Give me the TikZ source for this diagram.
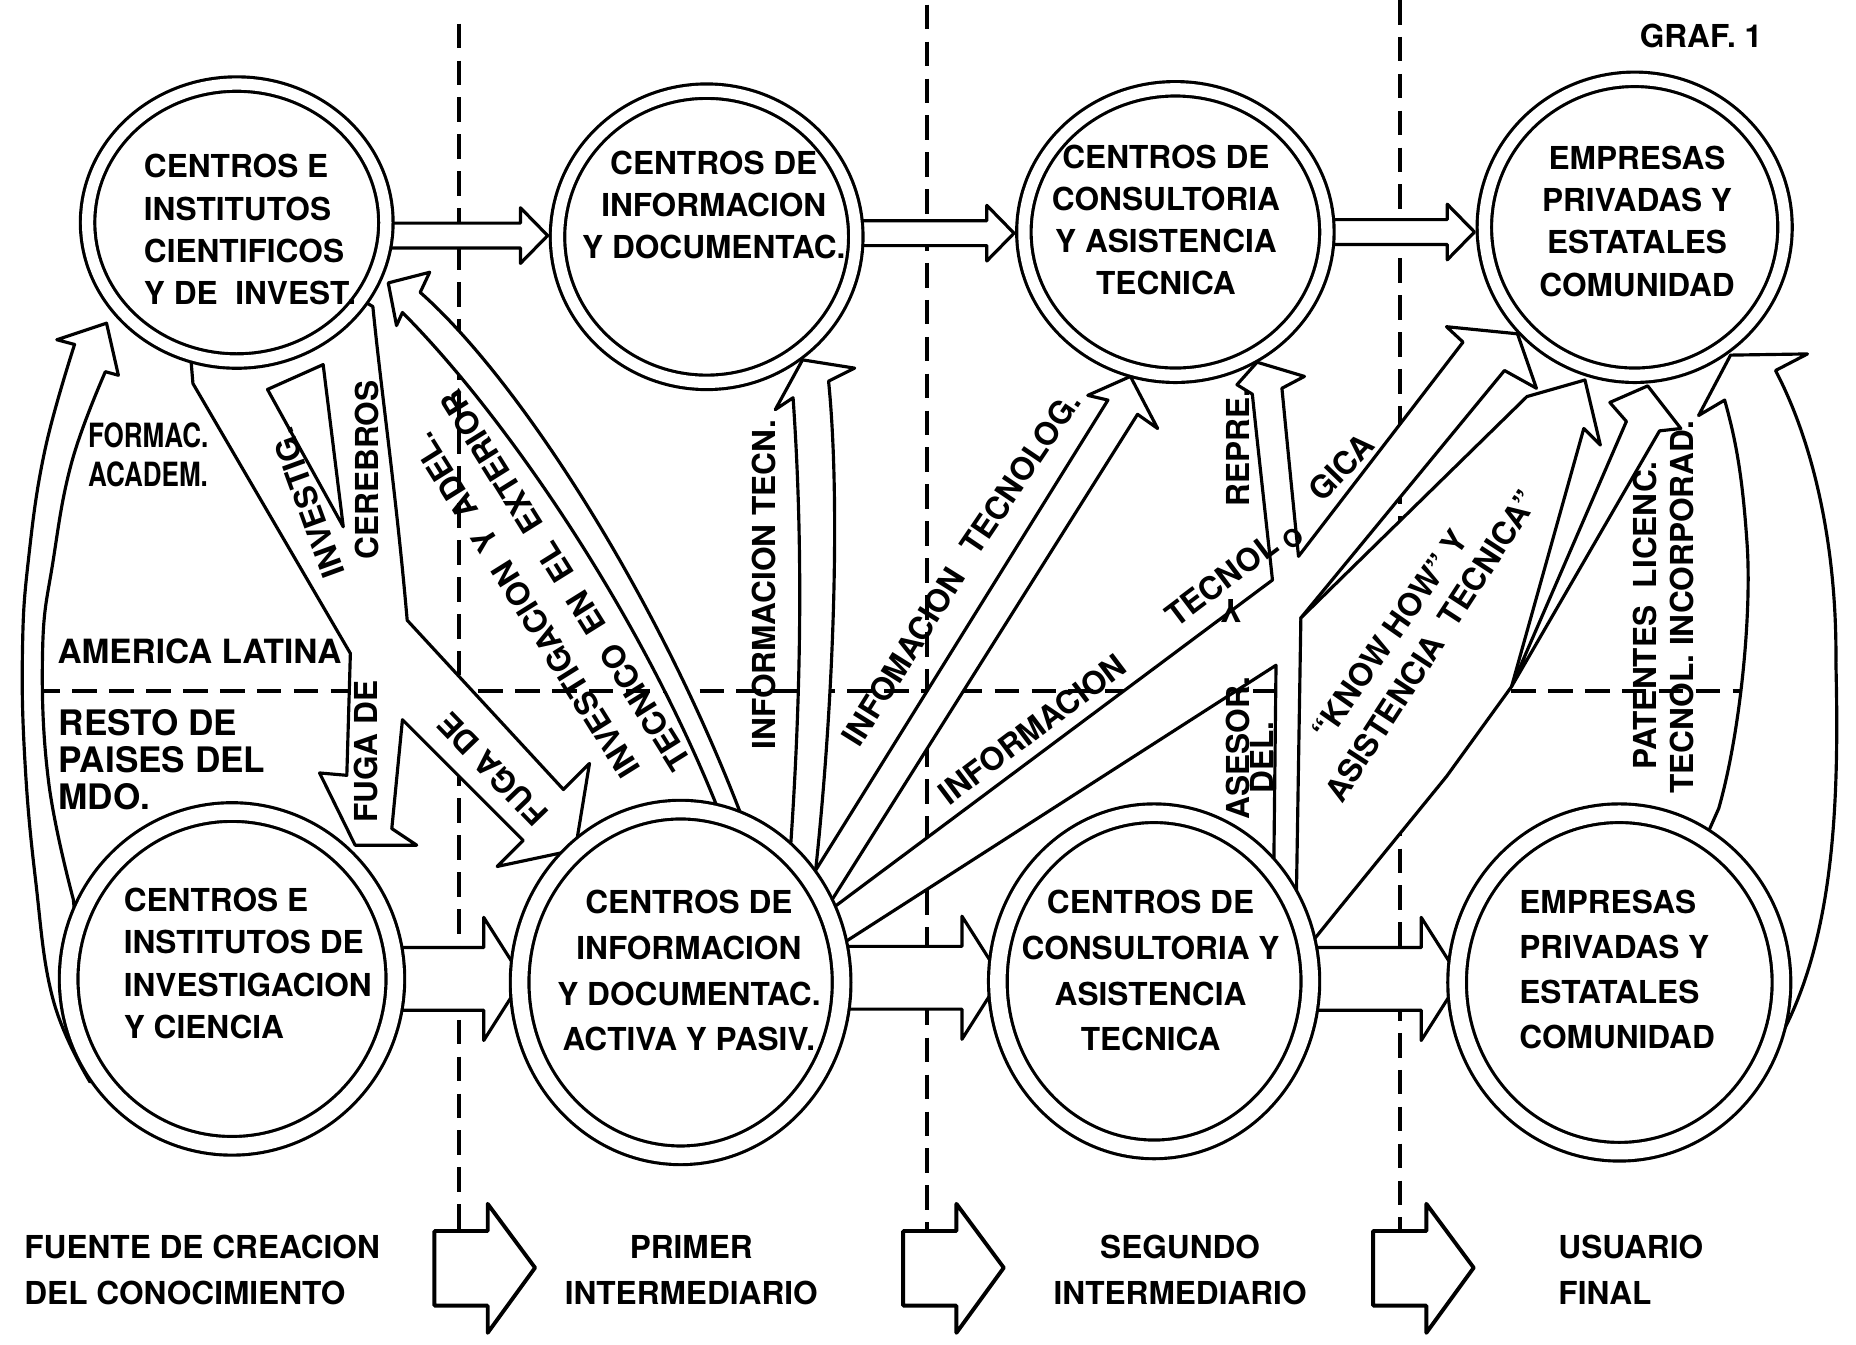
\documentclass[tikz,border=0pt]{standalone}
\usepackage{fontspec}
\setmainfont{TeX Gyre Heros}
\usetikzlibrary{calc,backgrounds,shapes.geometric}

\newcommand{\unid}{0.011837cm}

\tikzset{
  banda/.style={draw, fill=white, line width=0.9pt, line join=round},
  circulo/.style 2 args={ellipse, draw, double, double distance=4.4pt,
    line width=0.9pt, fill=white, inner sep=0pt,
    minimum width=#1*\unid, minimum height=#2*\unid},
  rotulo/.style={font=\fontsize{9}{12}\selectfont\bfseries, inner sep=0pt},
  raya/.style={line width=1.1pt, dash pattern=on 7pt off 3.5pt},
}

\begin{document}
\begin{tikzpicture}[x=\unid, y=-\unid]
\useasboundingbox (0,0) rectangle (1568,1136);

% circles
\node[circulo={252}{234}, double distance=3.2pt] (T1) at (200,188) {};
\node[circulo={252}{246}, double distance=3.2pt] (T2) at (597,200) {};
\node[circulo={256}{242}, double distance=3.2pt] (T3) at (993,196) {};
\node[circulo={254}{250}, double distance=3.2pt] (T4) at (1381,192) {};
\node[circulo={276}{282}] (B1) at (196,827) {};
\node[circulo={272}{292}] (B2) at (575,830) {};
\node[circulo={264}{284}] (B3) at (975,829) {};
\node[circulo={274}{286}] (B4) at (1368,830) {};

\begin{scope}[on background layer]
  \foreach \x/\y in {388/20, 783/4, 1183/0}
    \draw[raya] (\x,\y) -- (\x,1040);
  \draw[raya] (30,584) -- (1478,584);

  % formac. academ.
  \draw[banda] plot[smooth, tension=.7] coordinates {(62,760) (41,660) (36,549) (45,473) (61,389) (89,314)}
    -- (100,317) -- (90,273) -- (48,287) -- (63,291)
    -- plot[smooth, tension=.7] coordinates {(63,291) (38,380) (24,473) (19,549) (21,642) (30,743) (45,845) (76,914)}
    -- cycle;
  % fuga de cerebros / fuga de investig.
  \draw[banda] (161,300) -- (163,324) -- (296,552) -- (293,655) -- (270,653) -- (300,714)
    -- (352,714) -- (331,700) -- (340,608) -- (442,710) -- (420,732) -- (486,718)
    -- (498,645) -- (476,667) -- (344,524) .. controls (335,420) and (322,330) .. (315,259)
    -- (300,250) -- cycle;
  \draw[banda] (610,692) .. controls (541,515) and (422,346) .. (340,264) -- (335,275) -- (328,239)
    -- (363,230) -- (355,247) .. controls (439,321) and (558,507) .. (629,696) -- cycle;
  \draw[banda] (667,728) .. controls (680,549) and (676,422) .. (670,336) -- (655,346) -- (678,304)
    -- (722,311) -- (700,322) .. controls (710,422) and (705,591) .. (688,745) -- cycle;
  \draw[banda] (683,745) -- (936,338) -- (919,334) -- (955,318) -- (978,362) -- (961,350) -- (703,760) -- cycle;
  % informacion tecnologica + asesor. y repre.
  \draw[banda] (697,772) -- (1075,490) .. controls (1068,425) and (1062,372) .. (1058,333)
    -- (1045,325) -- (1062,306) -- (1102,318) -- (1083,328) .. controls (1088,380) and (1093,430) .. (1097,470)
    -- (1236,289) -- (1222,276) -- (1282,282) -- (1298,328) -- (1271,313) -- (1099,522)
    -- (1099,760) -- (1076,745) -- (1078,562) -- (712,797) -- cycle;
  % know how
  \draw[banda] (1095,770) -- (1099,522) -- (1290,335) -- (1339,321) -- (1352,376) -- (1338,362)
    -- (1277,580) -- (1222,656) -- (1130,769) -- (1105,800) -- cycle;
  \draw[banda] (1277,580) -- (1374,356) -- (1360,340) -- (1392,326) -- (1420,362) -- (1402,364) -- cycle;
  \draw[banda] (1440,710) -- (1452,683) .. controls (1470,620) and (1480,520) .. (1476,460)
    .. controls (1472,400) and (1466,370) .. (1457,338) -- (1435,351) -- (1462,300) -- (1527,299)
    -- (1500,313) .. controls (1535,380) and (1552,470) .. (1551,560)
    .. controls (1555,720) and (1545,860) .. (1450,945) -- cycle;

  % flows along each row
  \foreach \a/\b/\dy in {T1/T2/-1, T2/T3/1, T3/T4/4} {
    \coordinate (p) at ($(\b.west)+(-7,\dy)$);
    \path ($(p)+(-23,-10.5)$) coordinate (s1) ($(p)+(-23,10.5)$) coordinate (s2);
    \draw[banda] (\a.center |- s1) -- (s1) -- ($(p)+(-23,-23.5)$) -- (p)
      -- ($(p)+(-23,23.5)$) -- (s2) -- (\a.center |- s2);
  }
  \foreach \a/\b in {B1/B2, B2/B3, B3/B4} {
    \coordinate (p) at ($(\b.west)+(4,-3)$);
    \path ($(p)+(-33,-26.5)$) coordinate (s1) ($(p)+(-33,26.5)$) coordinate (s2);
    \draw[banda] (\a.center |- s1) -- (s1) -- ($(p)+(-33,-52)$) -- (p)
      -- ($(p)+(-33,52)$) -- (s2) -- (\a.center |- s2);
  }
\end{scope}

\draw[banda] (226,329) -- (273,308) -- (290,445) -- cycle;

\foreach \x in {367,763,1160}
  \draw[banda, line width=1.1pt] (\x,1040) -- (\x+45,1040) -- (\x+45,1017) -- (\x+85,1071)
    -- (\x+45,1126) -- (\x+45,1103) -- (\x,1103) -- cycle;

\node[rotulo] (graf) at (1437,30) {GRAF. 1};

\node[rotulo, align=left, anchor=west] (t1) at (121,194) {CENTROS E\\INSTITUTOS\\CIENTIFICOS\\Y DE~ INVEST.};
\node[rotulo, align=center] (t2) at (603,173) {CENTROS DE\\INFORMACION\\Y DOCUMENTAC.};
\node[rotulo, align=center] (t3) at (985,186) {CENTROS DE\\CONSULTORIA\\Y ASISTENCIA\\TECNICA};
\node[rotulo, align=center] (t4) at (1383,187) {EMPRESAS\\PRIVADAS Y\\ESTATALES\\COMUNIDAD};
\node[rotulo, align=left, anchor=west] (b1) at (104,814) {CENTROS E\\INSTITUTOS DE\\INVESTIGACION\\Y CIENCIA};
\node[rotulo, font=\fontsize{9}{13}\selectfont\bfseries, align=center] (b2) at (582,820) {CENTROS DE\\INFORMACION\\Y DOCUMENTAC.\\ACTIVA Y PASIV.};
\node[rotulo, font=\fontsize{9}{13}\selectfont\bfseries, align=center] (b3) at (972,820) {CENTROS DE\\CONSULTORIA Y\\ASISTENCIA\\TECNICA};
\node[rotulo, font=\fontsize{9}{12.8}\selectfont\bfseries, align=left, anchor=west] (b4) at (1283,819) {EMPRESAS\\PRIVADAS Y\\ESTATALES\\COMUNIDAD};

\node[rotulo, font=\fontsize{9.5}{11}\selectfont\bfseries, align=left, anchor=west, xscale=.78, transform shape] (formac) at (74,384) {FORMAC.\\ACADEM.};
\node[rotulo, font=\fontsize{9.5}{12}\selectfont\bfseries, anchor=west] (latina) at (48,550) {AMERICA LATINA};
\node[rotulo, font=\fontsize{10}{10.5}\selectfont\bfseries, align=left, anchor=west] (resto) at (49,642) {RESTO DE\\PAISES DEL\\MDO.};

\node[rotulo, rotate=110] (investig) at (260,425) {INVESTIG.};
\node[rotulo, rotate=90] (cerebros) at (310,397) {CEREBROS};
\node[rotulo, rotate=90] (fuga1) at (309,635) {FUGA DE};
\node[rotulo, rotate=134] (fuga2) at (416,650) {FUGA DE};
\node[rotulo, font=\fontsize{9}{13.5}\selectfont\bfseries, rotate=122, align=center] (exterior) at (461,501) {INVESTIGACION~ Y~ ADEL.\\TECNICO~ EN~ EL~ EXTERIOR};
\node[rotulo, rotate=90] (inftecn) at (645,494) {INFORMACION TECN.};
\node[rotulo, rotate=58] (infomacion) at (763,555) {INFOMACION};
\node[rotulo, rotate=56] (tecnolog) at (862,400) {TECNOLOG.};
\node[rotulo, rotate=37] (info2) at (872,616) {INFORMACION};
\node[rotulo, rotate=37] (tecnol) at (1032,490) {TECNOL};
\node[rotulo, font=\fontsize{7}{8}\selectfont\bfseries, rotate=40] (o) at (1092,455) {O};
\node[rotulo, rotate=46] (gica) at (1133,395) {GICA};
\node[rotulo, rotate=90] (repre) at (1046,378) {REPRE.};
\node[rotulo, rotate=180] (ye) at (1040,516) {Y};
\node[rotulo, rotate=90] (asesor) at (1046,632) {ASESOR.};
\node[rotulo, rotate=90] (del) at (1066,640) {DEL.};
\node[rotulo, rotate=55] (know) at (1174,536) {``KNOW HOW'' Y};
\node[rotulo, rotate=57] (asist) at (1209,546) {ASISTENCIA~ TECNICA''};
\node[rotulo, rotate=90] (patentes) at (1390,520) {PATENTES~ LICENC.};
\node[rotulo, rotate=90] (incorp) at (1421,513) {TECNOL. INCORPORAD.};

\node[rotulo, font=\fontsize{9}{13}\selectfont\bfseries, align=left, anchor=west] (fuente) at (20,1073) {FUENTE DE CREACION\\DEL CONOCIMIENTO};
\node[rotulo, font=\fontsize{9}{13}\selectfont\bfseries, align=center] (primer) at (584,1073) {PRIMER\\INTERMEDIARIO};
\node[rotulo, font=\fontsize{9}{13}\selectfont\bfseries, align=center] (segundo) at (997,1073) {SEGUNDO\\INTERMEDIARIO};
\node[rotulo, font=\fontsize{9}{13}\selectfont\bfseries, align=left, anchor=west] (usuario) at (1316,1073) {USUARIO\\FINAL};
\end{tikzpicture}
\end{document}
